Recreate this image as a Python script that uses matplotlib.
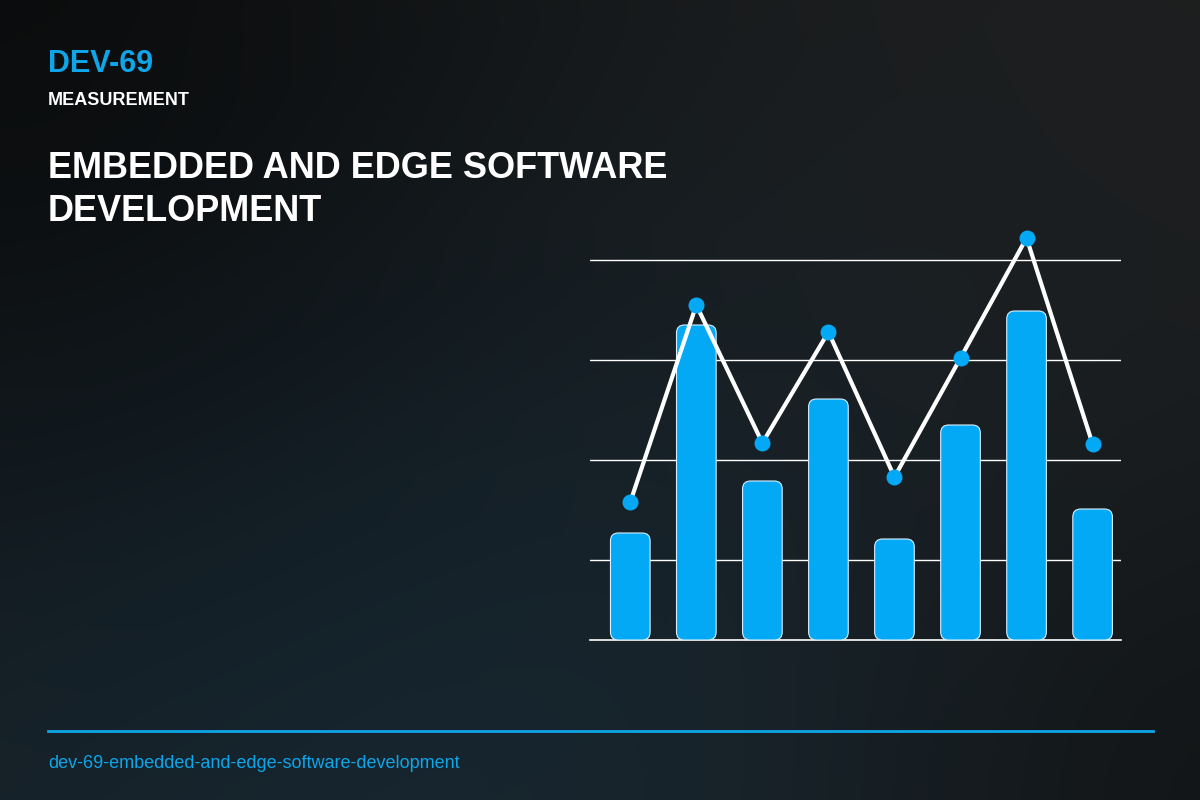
#!/usr/bin/env python3
"""
Recreate the DEV-69 measurement card: bars + line on a dark gradient
"""

import matplotlib

matplotlib.use("Agg")
import matplotlib.pyplot as plt
import numpy as np
from matplotlib.patches import FancyBboxPatch

plt.rcParams["font.family"] = ["Liberation Sans", "DejaVu Sans"]

# ---- data ----
categories = ["1", "2", "3", "4", "5", "6", "7", "8"]
bar_values = [26.75, 78.75, 39.75, 60.25, 25.25, 53.75, 82.25, 32.75]
line_values = [34.5, 83.75, 49.25, 77.0, 40.75, 70.5, 100.5, 49.0]
grid_levels = [20, 45, 70, 95]

code = "DEV-69"
kicker = "MEASUREMENT"
title_lines = ["EMBEDDED AND EDGE SOFTWARE", "DEVELOPMENT"]
slug = "dev-69-embedded-and-edge-software-development"

blue = "#03a9f4"
text_blue = "#0ea5e9"


def background(w=1200, h=800):
    """Gray base, a wide teal glow lower-left, dark top-left corner."""
    yy, xx = np.mgrid[0:h, 0:w]
    gray = np.array([30, 30, 30]) / 255.0
    teal = np.array([24, 40, 50]) / 255.0
    img = np.ones((h, w, 3)) * gray
    # teal glow
    g = np.exp(-(((xx - 350) / 520.0) ** 2 + ((yy - 700) / 420.0) ** 2) / 2)
    img = img * (1 - g[..., None]) + teal * g[..., None]
    # dark top-left corner
    dark = np.exp(-((xx / 420.0) ** 2 + (yy / 420.0) ** 2) / 2)
    img = img * (1 - 0.6 * dark[..., None])
    # darker bottom-right corner
    vig = np.exp(-(((xx - 1200) / 260.0) ** 2 + ((yy - 800) / 260.0) ** 2) / 2)
    img = img * (1 - 0.3 * vig[..., None])
    return img


fig = plt.figure(figsize=(12, 8), dpi=100)

bg = fig.add_axes([0, 0, 1, 1])
bg.imshow(background(), aspect="auto", extent=(0, 1200, 800, 0))
bg.set_xlim(0, 1200)
bg.set_ylim(800, 0)
bg.axis("off")

# header text
bg.text(48, 72, code, color=text_blue, fontsize=22, fontweight="bold")
bg.text(48, 105, kicker, color="white", fontsize=13, fontweight="bold")
bg.text(48, 178, title_lines[0], color="white", fontsize=26, fontweight="bold")
bg.text(48, 221, title_lines[1], color="white", fontsize=26, fontweight="bold")

# footer
bg.plot([48, 1153], [731, 731], color=text_blue, lw=2)
bg.text(48, 768, slug, color=text_blue, fontsize=13)

# ---- chart ----
ax = fig.add_axes([590 / 1200, 0.2, 531 / 1200, 0.525])
ax.set_xlim(-0.61, 7.43)
ax.set_ylim(0, 105)
ax.axis("off")

for g in grid_levels:
    ax.axhline(g, color="white", lw=1, zorder=1)
ax.axhline(0, color="white", lw=1.2, zorder=1, clip_on=False)

x = np.arange(len(categories))
bar_w = 0.6
# px per unit: x ~66 px, y 4 px -> correct the corner rounding aspect
aspect = (531 / 8.04) / 4.0
for xi, v in zip(x, bar_values):
    patch = FancyBboxPatch(
        (xi - bar_w / 2, 0),
        bar_w,
        v,
        boxstyle="round,pad=0,rounding_size=0.12",
        mutation_aspect=aspect,
        facecolor=blue,
        edgecolor="#d8f0ff",
        lw=0.8,
        zorder=2,
    )
    ax.add_patch(patch)

ax.plot(
    x,
    line_values,
    color="white",
    lw=3,
    zorder=3,
    clip_on=False,
    solid_capstyle="round",
)
ax.plot(
    x,
    line_values,
    "o",
    color=blue,
    markersize=11.5,
    markeredgewidth=0,
    zorder=4,
    clip_on=False,
)

plt.savefig("out.png", dpi=100)
print("saved out.png")
